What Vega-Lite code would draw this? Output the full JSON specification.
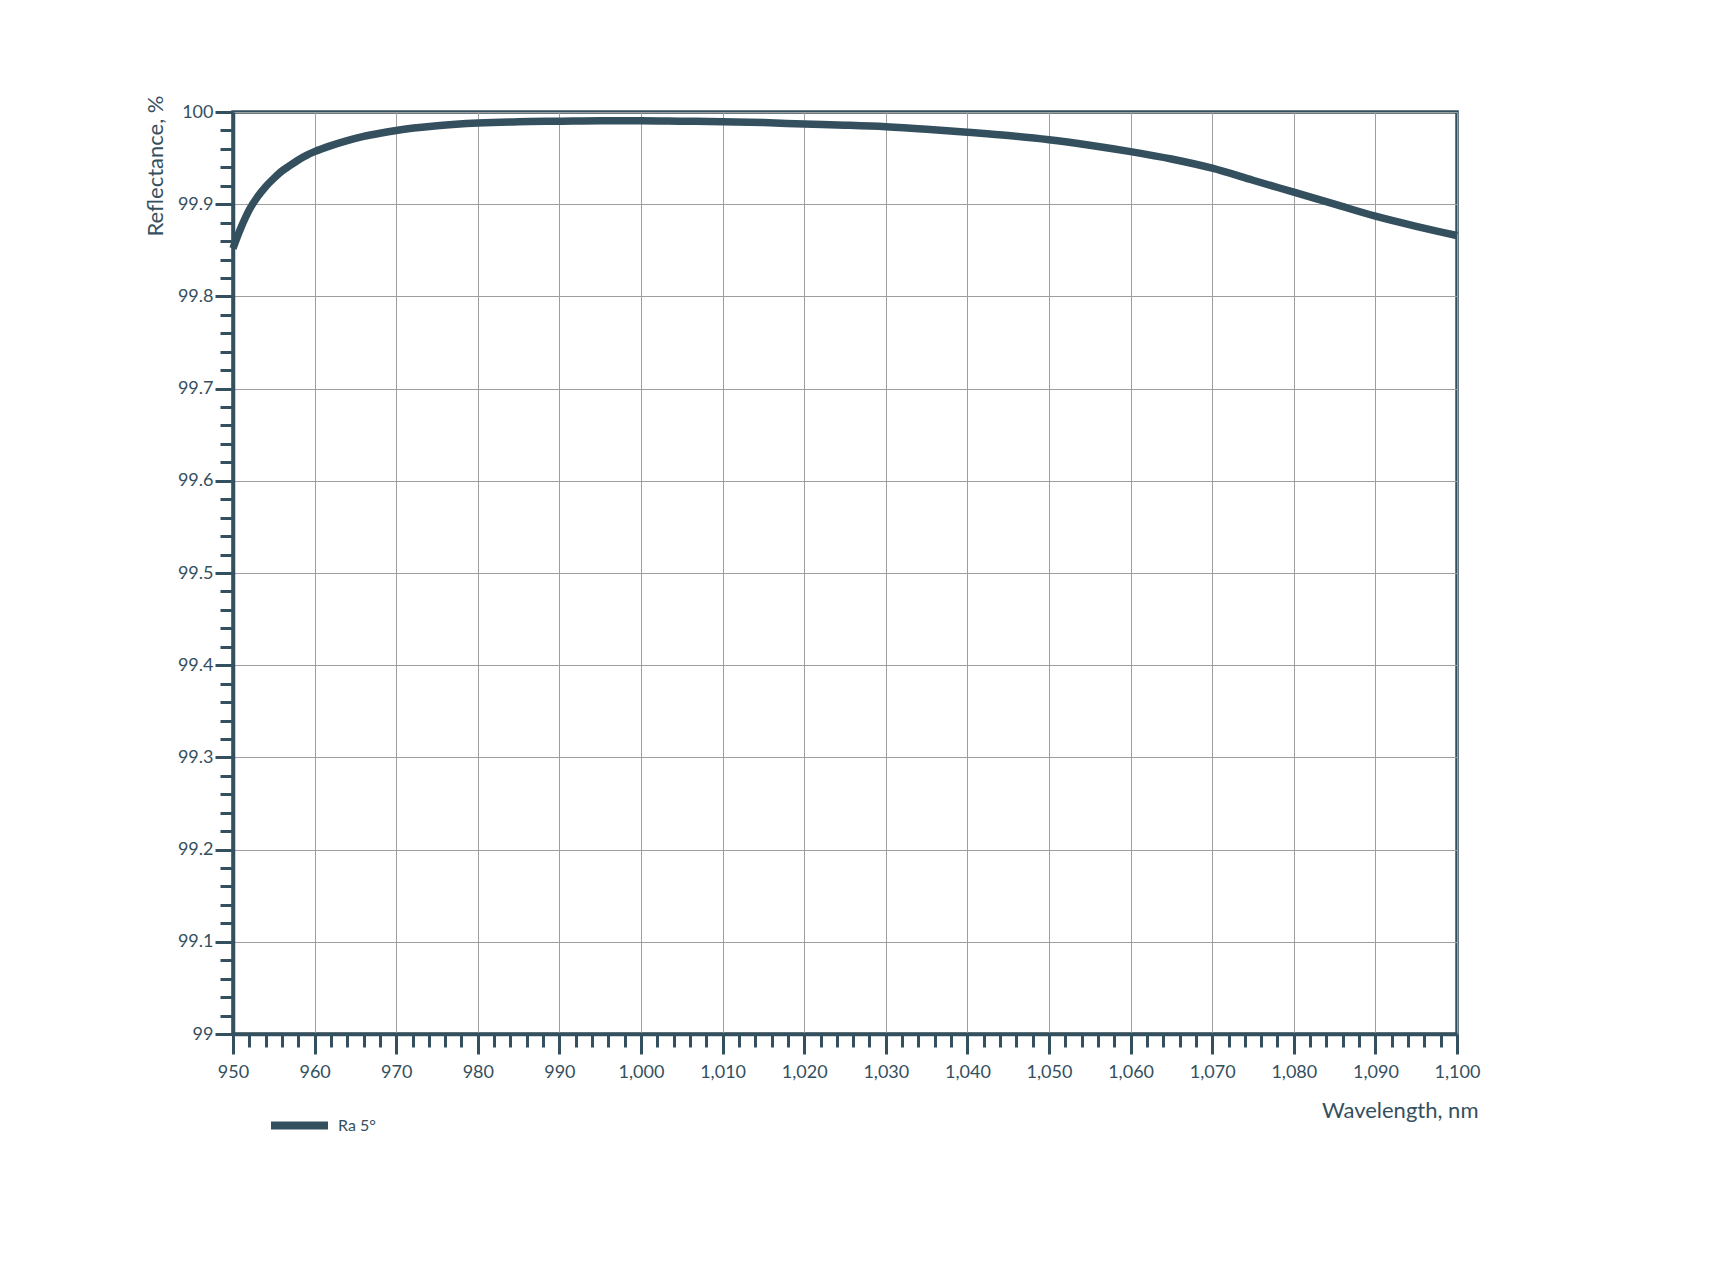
{
  "$schema": "https://vega.github.io/schema/vega-lite/v6.json",
  "width": 1224,
  "height": 922,
  "autosize": {"type": "none"},
  "padding": {"left": 233, "top": 112, "right": 254, "bottom": 236},
  "background": "white",
  "config": {
    "view": {"stroke": "#34505E", "strokeWidth": 3.5},
    "font": "Lato",
    "axis": {
      "domainColor": "#34505E",
      "domainWidth": 3.5,
      "tickColor": "#34505E",
      "tickWidth": 3,
      "labelColor": "#34505E",
      "titleColor": "#34505E",
      "gridColor": "#9E9E9E",
      "gridWidth": 1,
      "labelFont": "Lato",
      "titleFont": "Lato",
      "titleFontWeight": "normal",
      "labelOverlap": false,
      "labelFlush": false
    }
  },
  "data": {
    "values": [
      {"wavelength": 950, "reflectance": 99.852, "series": "Ra 5°"},
      {"wavelength": 950.5, "reflectance": 99.864, "series": "Ra 5°"},
      {"wavelength": 951, "reflectance": 99.875, "series": "Ra 5°"},
      {"wavelength": 951.5, "reflectance": 99.885, "series": "Ra 5°"},
      {"wavelength": 952, "reflectance": 99.894, "series": "Ra 5°"},
      {"wavelength": 953, "reflectance": 99.908, "series": "Ra 5°"},
      {"wavelength": 954, "reflectance": 99.919, "series": "Ra 5°"},
      {"wavelength": 955, "reflectance": 99.928, "series": "Ra 5°"},
      {"wavelength": 956, "reflectance": 99.936, "series": "Ra 5°"},
      {"wavelength": 957, "reflectance": 99.942, "series": "Ra 5°"},
      {"wavelength": 958, "reflectance": 99.948, "series": "Ra 5°"},
      {"wavelength": 959, "reflectance": 99.953, "series": "Ra 5°"},
      {"wavelength": 960, "reflectance": 99.957, "series": "Ra 5°"},
      {"wavelength": 962, "reflectance": 99.9635, "series": "Ra 5°"},
      {"wavelength": 964, "reflectance": 99.969, "series": "Ra 5°"},
      {"wavelength": 966, "reflectance": 99.9735, "series": "Ra 5°"},
      {"wavelength": 968, "reflectance": 99.977, "series": "Ra 5°"},
      {"wavelength": 970, "reflectance": 99.98, "series": "Ra 5°"},
      {"wavelength": 975, "reflectance": 99.985, "series": "Ra 5°"},
      {"wavelength": 980, "reflectance": 99.988, "series": "Ra 5°"},
      {"wavelength": 985, "reflectance": 99.9895, "series": "Ra 5°"},
      {"wavelength": 990, "reflectance": 99.99, "series": "Ra 5°"},
      {"wavelength": 995, "reflectance": 99.9905, "series": "Ra 5°"},
      {"wavelength": 1000, "reflectance": 99.9905, "series": "Ra 5°"},
      {"wavelength": 1005, "reflectance": 99.99, "series": "Ra 5°"},
      {"wavelength": 1010, "reflectance": 99.9895, "series": "Ra 5°"},
      {"wavelength": 1015, "reflectance": 99.9885, "series": "Ra 5°"},
      {"wavelength": 1020, "reflectance": 99.987, "series": "Ra 5°"},
      {"wavelength": 1025, "reflectance": 99.9857, "series": "Ra 5°"},
      {"wavelength": 1030, "reflectance": 99.984, "series": "Ra 5°"},
      {"wavelength": 1035, "reflectance": 99.9813, "series": "Ra 5°"},
      {"wavelength": 1040, "reflectance": 99.978, "series": "Ra 5°"},
      {"wavelength": 1045, "reflectance": 99.9745, "series": "Ra 5°"},
      {"wavelength": 1050, "reflectance": 99.97, "series": "Ra 5°"},
      {"wavelength": 1055, "reflectance": 99.964, "series": "Ra 5°"},
      {"wavelength": 1060, "reflectance": 99.957, "series": "Ra 5°"},
      {"wavelength": 1065, "reflectance": 99.949, "series": "Ra 5°"},
      {"wavelength": 1070, "reflectance": 99.939, "series": "Ra 5°"},
      {"wavelength": 1075, "reflectance": 99.926, "series": "Ra 5°"},
      {"wavelength": 1080, "reflectance": 99.913, "series": "Ra 5°"},
      {"wavelength": 1085, "reflectance": 99.9, "series": "Ra 5°"},
      {"wavelength": 1090, "reflectance": 99.887, "series": "Ra 5°"},
      {"wavelength": 1095, "reflectance": 99.876, "series": "Ra 5°"},
      {"wavelength": 1100, "reflectance": 99.866, "series": "Ra 5°"}
    ]
  },
  "mark": {"type": "line", "strokeWidth": 7.5, "interpolate": "monotone", "strokeCap": "butt"},
  "encoding": {
    "x": {
      "field": "wavelength",
      "type": "quantitative",
      "scale": {"domain": [950, 1100], "nice": false, "zero": false},
      "axis": {
        "title": "Wavelength, nm",
        "titleFontSize": 22,
        "titleAlign": "right",
        "titleAnchor": null,
        "titleX": 1245,
        "titleY": 76,
        "titleBaseline": "middle",
        "values": [950,952,954,956,958,960,962,964,966,968,970,972,974,976,978,980,982,984,986,988,990,992,994,996,998,1000,1002,1004,1006,1008,1010,1012,1014,1016,1018,1020,1022,1024,1026,1028,1030,1032,1034,1036,1038,1040,1042,1044,1046,1048,1050,1052,1054,1056,1058,1060,1062,1064,1066,1068,1070,1072,1074,1076,1078,1080,1082,1084,1086,1088,1090,1092,1094,1096,1098,1100],
        "labelExpr": "datum.value % 10 === 0 ? format(datum.value, ',') : ''",
        "labelFontSize": 18,
        "labelPadding": 9,
        "tickSize": {"condition": {"test": "datum.value % 10 === 0", "value": 20}, "value": 13},
        "gridOpacity": {"condition": {"test": "datum.value % 10 === 0", "value": 1}, "value": 0}
      }
    },
    "y": {
      "field": "reflectance",
      "type": "quantitative",
      "scale": {"domain": [99, 100], "nice": false, "zero": false},
      "axis": {
        "title": "Reflectance, %",
        "titleFontSize": 22,
        "titleAngle": 270,
        "titleAlign": "right",
        "titleAnchor": null,
        "titleX": -78,
        "titleY": -17,
        "titleBaseline": "middle",
        "values": [99,99.02,99.04,99.06,99.08,99.1,99.12,99.14,99.16,99.18,99.2,99.22,99.24,99.26,99.28,99.3,99.32,99.34,99.36,99.38,99.4,99.42,99.44,99.46,99.48,99.5,99.52,99.54,99.56,99.58,99.6,99.62,99.64,99.66,99.68,99.7,99.72,99.74,99.76,99.78,99.8,99.82,99.84,99.86,99.88,99.9,99.92,99.94,99.96,99.98,100],
        "labelExpr": "abs(datum.value*10 - round(datum.value*10)) < 0.01 ? format(datum.value, '.1~f') : ''",
        "labelFontSize": 18,
        "labelPadding": 2,
        "tickSize": {"condition": {"test": "abs(datum.value*10 - round(datum.value*10)) < 0.01", "value": 18}, "value": 13},
        "gridOpacity": {"condition": {"test": "abs(datum.value*10 - round(datum.value*10)) < 0.01", "value": 1}, "value": 0}
      }
    },
    "color": {
      "field": "series",
      "type": "nominal",
      "scale": {"range": ["#34505E"]},
      "legend": {
        "title": null,
        "orient": "none",
        "legendX": 34,
        "legendY": 981,
        "symbolType": "stroke",
        "symbolStrokeWidth": 8,
        "symbolSize": 3249,
        "labelFontSize": 16,
        "labelColor": "#34505E",
        "labelFont": "Lato",
        "labelOffset": 6
      }
    }
  }
}
